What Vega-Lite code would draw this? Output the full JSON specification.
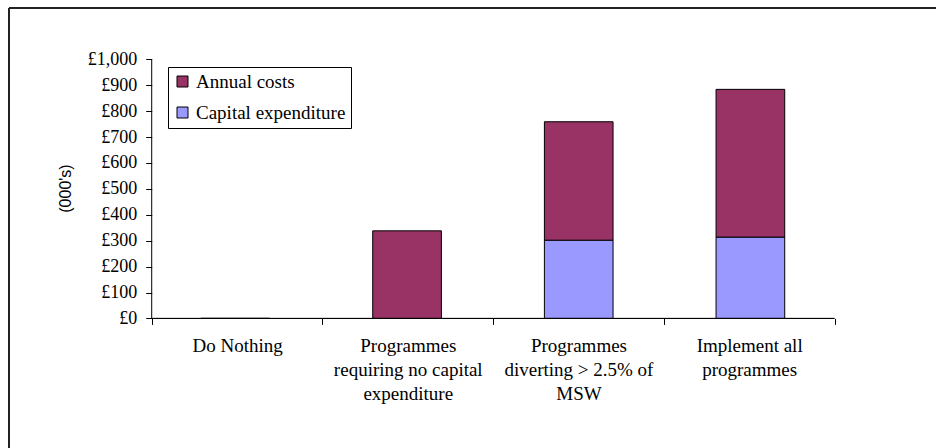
{
  "$schema": "https://vega.github.io/schema/vega-lite/v6.json",
  "autosize": {"type": "none"},
  "padding": {"left": 9, "top": 8, "right": 0, "bottom": 0},
  "width": 927,
  "height": 440,
  "background": "white",
  "config": {
    "view": {"stroke": null},
    "axis": {"grid": false}
  },
  "datasets": {
    "costs": [
      {"scenario": "Do Nothing", "type": "Capital expenditure", "cost": 0},
      {"scenario": "Do Nothing", "type": "Annual costs", "cost": 0},
      {"scenario": "Programmes requiring no capital expenditure", "type": "Capital expenditure", "cost": 0},
      {"scenario": "Programmes requiring no capital expenditure", "type": "Annual costs", "cost": 338},
      {"scenario": "Programmes diverting > 2.5% of MSW", "type": "Capital expenditure", "cost": 302},
      {"scenario": "Programmes diverting > 2.5% of MSW", "type": "Annual costs", "cost": 457},
      {"scenario": "Implement all programmes", "type": "Capital expenditure", "cost": 314},
      {"scenario": "Implement all programmes", "type": "Annual costs", "cost": 570}
    ],
    "scenarios": [
      {"scenario": "Do Nothing"},
      {"scenario": "Programmes requiring no capital expenditure"},
      {"scenario": "Programmes diverting > 2.5% of MSW"},
      {"scenario": "Implement all programmes"}
    ]
  },
  "resolve": {"scale": {"x": "independent"}},
  "layer": [
    {
      "data": {"name": "costs"},
      "mark": {"type": "bar", "stroke": "black", "strokeWidth": 1},
      "encoding": {
        "x": {
          "field": "scenario",
          "type": "nominal",
          "sort": null,
          "scale": {"paddingInner": 0.6, "paddingOuter": 1.0153, "align": 0.5594, "round": false},
          "axis": null
        },
        "y": {
          "field": "cost",
          "type": "quantitative",
          "stack": "zero",
          "scale": {"domain": [-500, 1198], "nice": false, "zero": false},
          "axis": {
            "offset": -142.7,
            "values": [0, 100, 200, 300, 400, 500, 600, 700, 800, 900, 1000],
            "labelExpr": "'£' + format(datum.value, ',')",
            "domain": false,
            "tickSize": 6,
            "tickColor": "black",
            "labelFont": "Liberation Serif",
            "labelFontSize": 18,
            "labelColor": "black",
            "labelPadding": 9,
            "title": "(000's)",
            "titleFont": "Liberation Sans",
            "titleFontSize": 16,
            "titleFontWeight": "normal",
            "titleColor": "black",
            "titleAngle": -90,
            "titleAlign": "center",
            "titleBaseline": "middle",
            "titleX": -86,
            "titleY": 180
          }
        },
        "color": {
          "field": "type",
          "type": "nominal",
          "scale": {"domain": ["Annual costs", "Capital expenditure"], "range": ["#993366", "#9999FF"]},
          "legend": {
            "orient": "none",
            "legendX": 159,
            "legendY": 59,
            "title": null,
            "direction": "vertical",
            "strokeColor": "black",
            "fillColor": "white",
            "padding": 5,
            "symbolType": "square",
            "symbolSize": 121,
            "symbolStrokeColor": "black",
            "symbolStrokeWidth": 1,
            "symbolOpacity": 1,
            "labelFont": "Liberation Serif",
            "labelFontSize": 19,
            "labelColor": "black",
            "labelOffset": 4,
            "rowPadding": 11
          }
        },
        "order": {"field": "type", "sort": "descending"}
      }
    },
    {
      "data": {"name": "scenarios"},
      "layer": [
        {
          "mark": {"type": "bar", "fill": "transparent", "stroke": "black", "strokeWidth": 1},
          "encoding": {
            "x": {
              "field": "scenario",
              "type": "nominal",
              "sort": null,
              "scale": {"paddingInner": 0, "paddingOuter": 0.7153, "align": 0.5844, "round": false},
              "axis": {
                "orient": "bottom",
                "offset": -129.6,
                "tickBand": "extent",
                "domain": false,
                "title": null,
                "tickSize": 6,
                "tickColor": "black",
                "labelAngle": 0,
                "labelFont": "Liberation Serif",
                "labelFontSize": 19,
                "labelColor": "black",
                "labelLineHeight": 24,
                "labelBaseline": "top",
                "labelPadding": 12,
                "labelLimit": 0,
                "labelOverlap": false,
                "labelBound": false,
                "labelExpr": "datum.value === 'Programmes requiring no capital expenditure' ? ['Programmes', 'requiring no capital', 'expenditure'] : datum.value === 'Programmes diverting > 2.5% of MSW' ? ['Programmes', 'diverting > 2.5% of', 'MSW'] : datum.value === 'Implement all programmes' ? ['Implement all', 'programmes'] : datum.label"
              }
            },
            "y": {"datum": 0},
            "y2": {"datum": 0}
          }
        },
        {
          "transform": [{"filter": "datum.scenario === 'Do Nothing'"}],
          "mark": {"type": "rule", "color": "black", "strokeWidth": 1},
          "encoding": {
            "x": {"field": "scenario", "type": "nominal", "sort": null, "bandPosition": 0},
            "y": {"datum": 0},
            "y2": {"datum": 1000}
          }
        }
      ]
    },
    {
      "data": {"values": [{"edge": "frame"}]},
      "layer": [
        {
          "mark": {"type": "rule", "color": "#222222", "strokeWidth": 2},
          "encoding": {
            "x": {"datum": 0, "type": "quantitative", "scale": {"domain": [0, 1]}, "axis": null}
          }
        },
        {
          "mark": {"type": "rule", "color": "#222222", "strokeWidth": 2},
          "encoding": {
            "y": {"datum": 1198}
          }
        }
      ]
    }
  ]
}
